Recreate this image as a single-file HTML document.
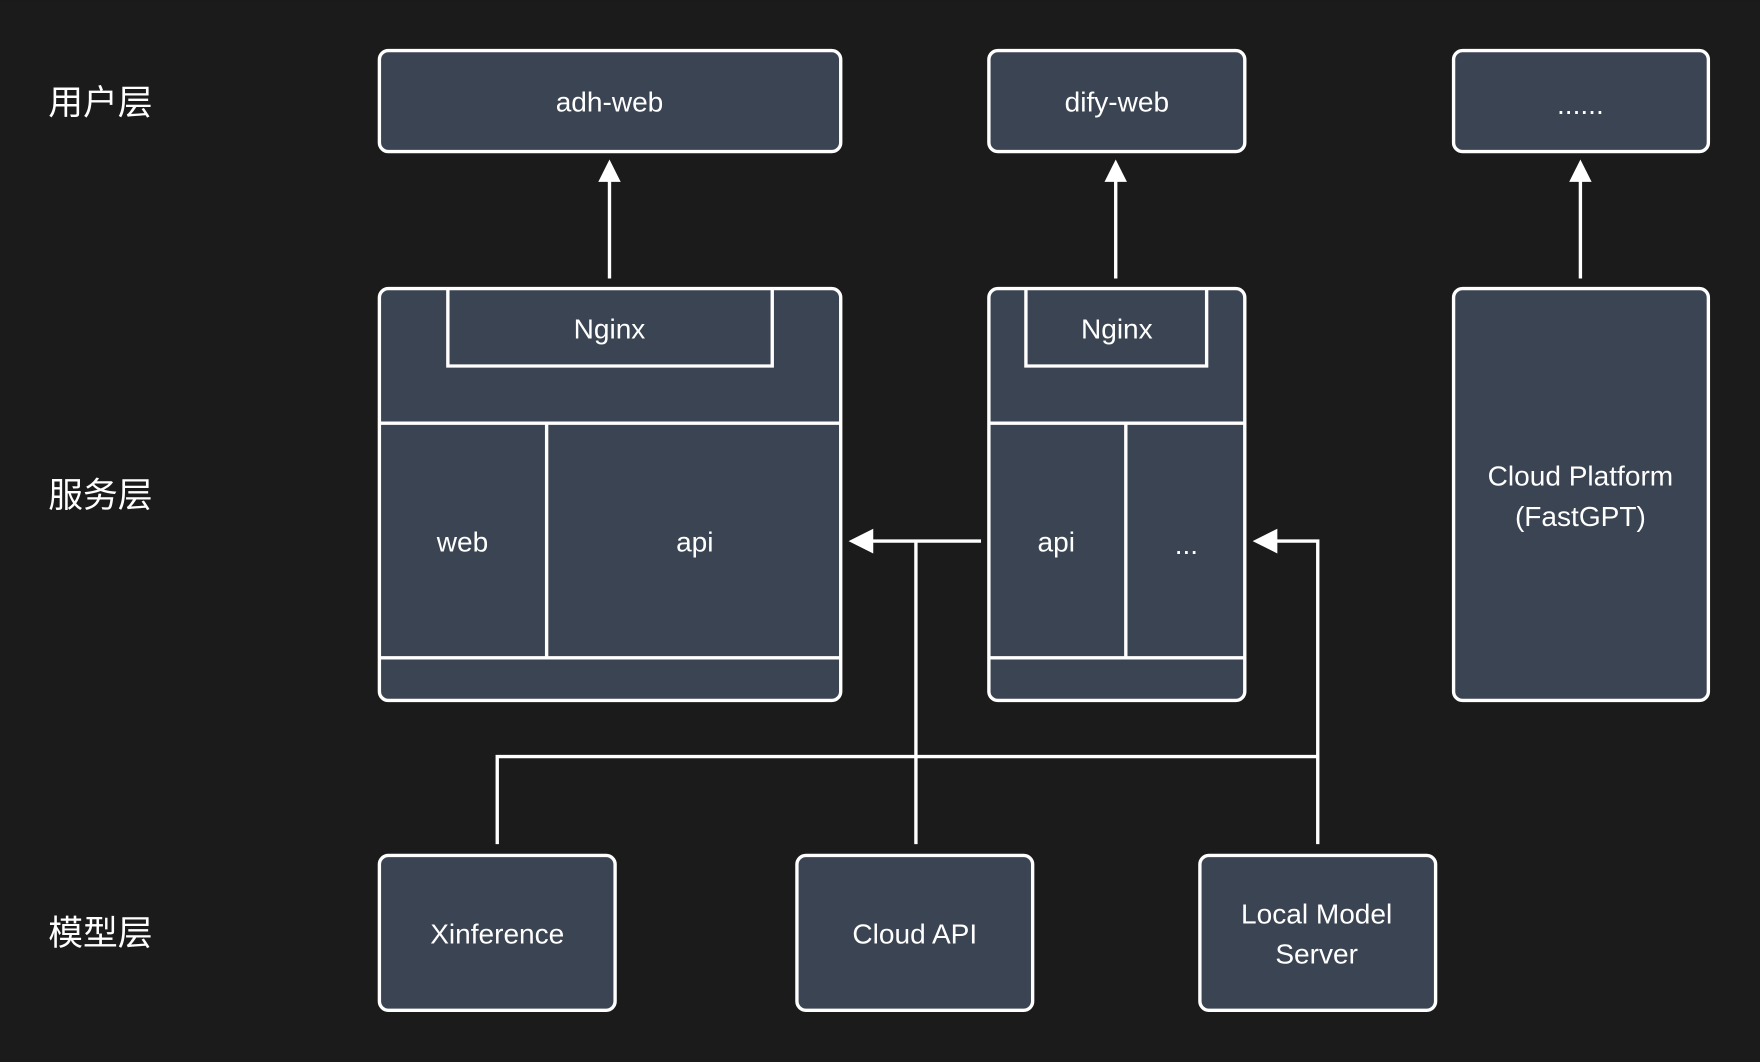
<!DOCTYPE html>
<html><head><meta charset="utf-8"><style>
html,body{margin:0;padding:0;background:#1b1b1b;}
svg{display:block}
text{font-family:"Liberation Sans","Noto Sans CJK SC",sans-serif;fill:#fff;text-anchor:middle;dominant-baseline:central}
</style></head><body>
<svg width="1760" height="1062" viewBox="0 0 1568 946" xmlns="http://www.w3.org/2000/svg">
<rect width="1568" height="946" fill="#1b1b1b"/>
<g fill="#3b4452" stroke="#fff" stroke-width="3">
<rect x="338" y="45" width="411" height="90" rx="8"/>
<rect x="881" y="45" width="228" height="90" rx="8"/>
<rect x="1295" y="45" width="227" height="90" rx="8"/>
<rect x="338" y="257" width="411" height="367" rx="8"/>
<rect x="881" y="257" width="228" height="367" rx="8"/>
<rect x="1295" y="257" width="227" height="367" rx="8"/>
<rect x="338" y="762" width="210" height="138" rx="8"/>
<rect x="710" y="762" width="210" height="138" rx="8"/>
<rect x="1069" y="762" width="210" height="138" rx="8"/>
</g>
<g fill="none" stroke="#fff" stroke-width="3">
<path d="M399 257V326H688V257"/>
<path d="M338 377H749M487 377V586M338 586H749"/>
<path d="M914 257V326H1075V257"/>
<path d="M881 377H1109M1003 377V586M881 586H1109"/>
<path d="M543 248V160M994 248V160M1408 248V160"/>
<path d="M874 482H776M816 482V752M443 752V674H1174M1174 752V482H1136"/>
</g>
<g fill="#fff">
<path d="M543 142L533 162H553Z"/>
<path d="M994 142L984 162H1004Z"/>
<path d="M1408 142L1398 162H1418Z"/>
<path d="M756 482L778 471V493Z"/>
<path d="M1116 482L1138 471V493Z"/>
</g>
<g font-size="25">
<text x="543" y="91">adh-web</text>
<text x="995" y="91">dify-web</text>
<text x="1408" y="93">......</text>
<text x="543" y="293">Nginx</text>
<text x="995" y="293">Nginx</text>
<text x="412" y="483">web</text>
<text x="619" y="483">api</text>
<text x="941" y="483">api</text>
<text x="1057" y="485">...</text>
<text x="1408" y="424">Cloud Platform</text>
<text x="1408" y="460">(FastGPT)</text>
<text x="443" y="832">Xinference</text>
<text x="815" y="832">Cloud API</text>
<text x="1173" y="814">Local Model</text>
<text x="1173" y="850">Server</text>
</g>
<g font-size="31">
<text x="43" y="92" style="text-anchor:start">用户层</text>
<text x="43" y="442" style="text-anchor:start">服务层</text>
<text x="43" y="832" style="text-anchor:start">模型层</text>
</g>
</svg>
</body></html>
